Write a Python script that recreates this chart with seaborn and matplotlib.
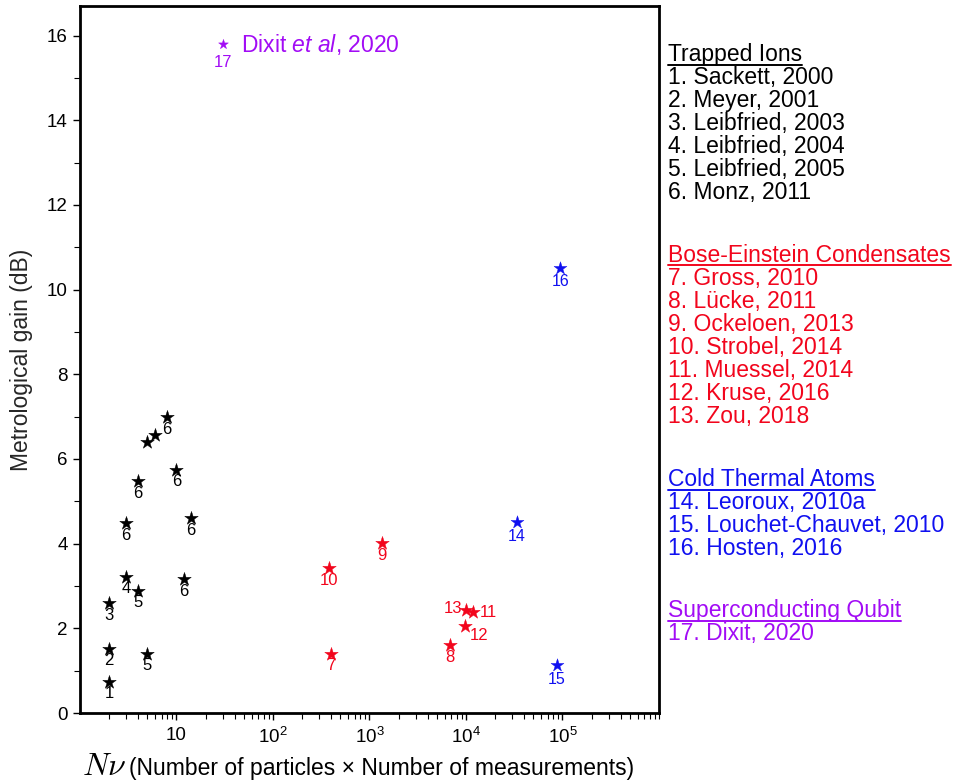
import numpy as np
import pandas as pd
import matplotlib
matplotlib.use("Agg")
import matplotlib.pyplot as plt
import seaborn as sns
from matplotlib.lines import Line2D
from matplotlib.ticker import FixedLocator, FixedFormatter, NullFormatter

# ---------------- data ----------------
ion_x = [2, 2, 2, 3, 4, 5, 3, 4, 5, 6, 8, 10, 14, 12]
ion_y = [0.73, 1.51, 2.59, 3.21, 2.88, 1.39, 4.48, 5.47, 6.39, 6.56, 6.98, 5.75, 4.60, 3.16]
ion_lab = ["1", "2", "3", "4", "5", "5", "6", "6", "", "", "6", "6", "6", "6"]

bec_x = [400, 6800, 1360, 380, 11800, 9800, 10000]
bec_y = [1.39, 1.60, 4.01, 3.42, 2.38, 2.05, 2.43]
bec_lab = ["7", "8", "9", "10", "11", "12", "13"]

cold_x = [33600, 87000, 95000]
cold_y = [4.50, 1.13, 10.52]
cold_lab = ["14", "15", "16"]

sq_x = [30]
sq_y = [15.8]
sq_lab = ["17"]

xtick_vals = [10, 1e2, 1e3, 1e4, 1e5]
xtick_labels = ["10", "$10^2$", "$10^3$", "$10^4$", "$10^5$"]
ytick_vals = [0, 2, 4, 6, 8, 10, 12, 14, 16]

legend_groups = [
    ("Trapped Ions", ["1. Sackett, 2000", "2. Meyer, 2001", "3. Leibfried, 2003",
                      "4. Leibfried, 2004", "5. Leibfried, 2005", "6. Monz, 2011"]),
    ("Bose-Einstein Condensates", ["7. Gross, 2010", "8. Lücke, 2011", "9. Ockeloen, 2013",
                                   "10. Strobel, 2014", "11. Muessel, 2014", "12. Kruse, 2016",
                                   "13. Zou, 2018"]),
    ("Cold Thermal Atoms", ["14. Leoroux, 2010a", "15. Louchet-Chauvet, 2010", "16. Hosten, 2016"]),
    ("Superconducting Qubit", ["17. Dixit, 2020"]),
]

# ---------------- style ----------------
sns.set_theme(style="white")
plt.rcParams["font.family"] = ["Liberation Sans", "DejaVu Sans"]
plt.rcParams["mathtext.fontset"] = "custom"
plt.rcParams["mathtext.rm"] = "Liberation Sans"
plt.rcParams["mathtext.it"] = "Liberation Sans:italic"
plt.rcParams["mathtext.bf"] = "Liberation Sans:bold"

BLACK = "#000000"
RED = "#f2051c"
BLUE = "#1010f0"
PURPLE = "#a20cf5"
colors = [BLACK, RED, BLUE, PURPLE]

fig = plt.figure(figsize=(9.62, 7.84), dpi=100)
ax = fig.add_axes([80 / 962, 1 - 713 / 784, (659 - 80) / 962, (713 - 6) / 784])

groups = [
    (ion_x, ion_y, ion_lab, BLACK, 105, 8.5),
    (bec_x, bec_y, bec_lab, RED, 105, 8.5),
    (cold_x, cold_y, cold_lab, BLUE, 95, 10.0),
    (sq_x, sq_y, sq_lab, PURPLE, 55, 13.5),
]

for xs, ys, labs, col, s, off in groups:
    df = pd.DataFrame({"x": xs, "y": ys})
    sns.scatterplot(data=df, x="x", y="y", ax=ax, marker="*", s=s, color=col,
                    edgecolor=col, linewidth=0.3, zorder=3)

special = {"13": ((-3, 1), "right", "center"),
           "11": ((5, 0), "left", "center"),
           "12": ((3, -7), "left", "center")}

for xs, ys, labs, col, s, off in groups:
    for x, y, lab in zip(xs, ys, labs):
        if not lab:
            continue
        if col == RED and lab in special:
            (dx, dy), ha, va = special[lab]
        else:
            (dx, dy), ha, va = (0, -off), "center", "center"
        ax.annotate(lab, (x, y), xytext=(dx, dy), textcoords="offset points",
                    ha=ha, va=va, fontsize=12 if col != BLUE else 11.5, color=col)

ax.annotate("Dixit $\\it{et\\ al}$, 2020", (sq_x[0], sq_y[0]), xytext=(13, 0),
            textcoords="offset points", ha="left", va="center", fontsize=16.5, color=PURPLE)

ax.set_xscale("log")
ax.set_xlim(1, 1e6)
ax.set_ylim(0, 16.7)
ax.xaxis.set_major_locator(FixedLocator(xtick_vals))
ax.xaxis.set_major_formatter(FixedFormatter(xtick_labels))
minor = [m * 10 ** e for e in range(0, 6) for m in range(2, 10)] + [1e6]
ax.xaxis.set_minor_locator(FixedLocator(minor))
ax.xaxis.set_minor_formatter(NullFormatter())
ax.set_yticks(ytick_vals)
ax.set_yticks(np.arange(1, 17, 2), minor=True)

ax.tick_params(axis="both", which="major", direction="out", length=5, width=1.0,
               labelsize=13.5, bottom=True, left=True, top=False, right=False, pad=4,
               color="black", labelcolor="black")
ax.tick_params(axis="both", which="minor", direction="out", length=4, width=0.8,
               bottom=True, left=True, top=False, right=False, color="black")
ax.tick_params(axis="x", which="major", length=5, pad=5)

for sp in ax.spines.values():
    sp.set_visible(True)
    sp.set_color("black")
    sp.set_linewidth(2.0)

ax.set_ylabel("Metrological gain (dB)", fontsize=16.5, labelpad=10)
ax.set_xlabel("")

# x label: large serif-italic N nu followed by the description
base_y = 1 - 775 / 784
fig.text(126 / 962, base_y, "$N\\nu$", fontsize=23, ha="right", va="baseline",
         math_fontfamily="cm", color="black")
fig.text(129 / 962, base_y, "(Number of particles × Number of measurements)",
         fontsize=16.5, ha="left", va="baseline", color="black")

# ---------------- right-side text legend ----------------
tx = 668 / 962
header_y = [55, 256, 480, 611]
line_h = 22.9
text_objs = []
for (head, items), hy, col in zip(legend_groups, header_y, colors):
    t = fig.text(tx, 1 - hy / 784, head, fontsize=16.5, color=col, ha="left", va="center")
    text_objs.append((t, col))
    for i, it in enumerate(items):
        fig.text(tx, 1 - (hy + line_h * (i + 1)) / 784, it, fontsize=16.5, color=col,
                 ha="left", va="center")

fig.canvas.draw()
renderer = fig.canvas.get_renderer()
for t, col in text_objs:
    bb = t.get_window_extent(renderer=renderer)
    x0, x1 = bb.x0 / fig.bbox.width, bb.x1 / fig.bbox.width
    yy = (bb.y0 + 2.0) / fig.bbox.height
    fig.add_artist(Line2D([x0, x1], [yy, yy], transform=fig.transFigure, color=col, lw=1.4))

fig.savefig("out.png", dpi=100)
